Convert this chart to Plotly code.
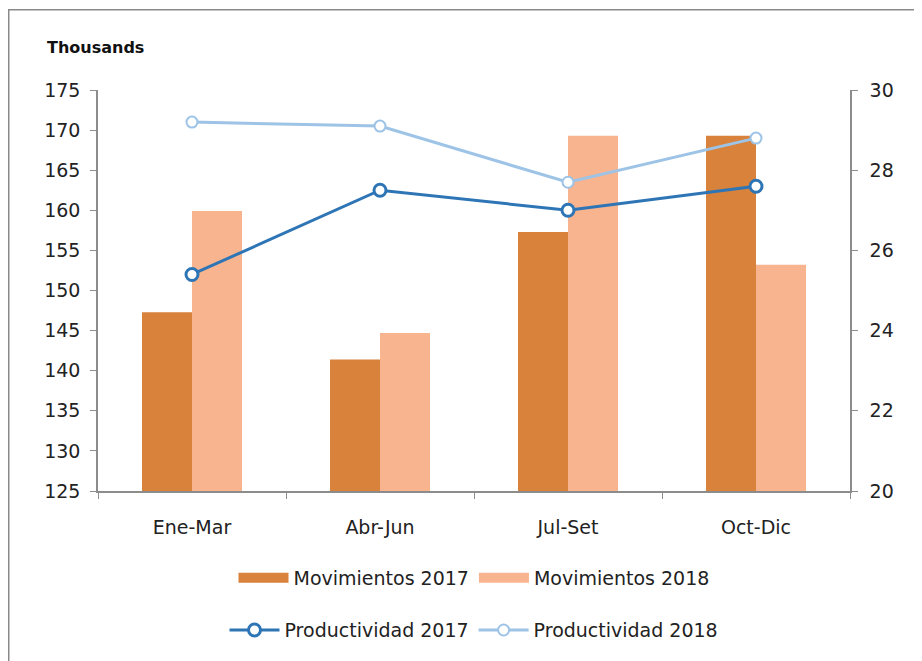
import plotly.graph_objects as go

categories = ["Ene-Mar", "Abr-Jun", "Jul-Set", "Oct-Dic"]
mov_2017 = [147.3, 141.4, 157.3, 169.3]
mov_2018 = [159.9, 144.7, 169.3, 153.2]
prod_2017 = [25.4, 27.5, 27.0, 27.6]
prod_2018 = [29.2, 29.1, 27.7, 28.8]
left_ticks = list(range(125, 176, 5))
right_ticks = list(range(20, 31, 2))

FONT = "'DejaVu Sans', sans-serif"
AX = "#8c8c8c"
C17 = "#D9823B"
C18 = "#F8B48E"

fig = go.Figure()
fig.add_trace(go.Bar(x=categories, y=[v - 125 for v in mov_2017], base=125,
                     name="Movimientos 2017", marker_color=C17,
                     marker_line_width=0, showlegend=False))
fig.add_trace(go.Bar(x=categories, y=[v - 125 for v in mov_2018], base=125,
                     name="Movimientos 2018", marker_color=C18,
                     marker_line_width=0, showlegend=False))
# legend entries drawn as wide swatches
fig.add_trace(go.Scatter(x=[categories[0]], y=[None], mode="lines", name="Movimientos 2017",
                         line=dict(color=C17, width=10), legend="legend"))
fig.add_trace(go.Scatter(x=[categories[0]], y=[None], mode="lines", name="Movimientos 2018",
                         line=dict(color=C18, width=10), legend="legend"))
fig.add_trace(go.Scatter(x=categories, y=prod_2017, yaxis="y2", name="Productividad 2017",
                         mode="lines+markers",
                         line=dict(color="#2E75B6", width=3),
                         marker=dict(symbol="circle", size=12, color="white",
                                     line=dict(color="#2E75B6", width=3)),
                         legend="legend2"))
fig.add_trace(go.Scatter(x=categories, y=prod_2018, yaxis="y2", name="Productividad 2018",
                         mode="lines+markers",
                         line=dict(color="#9DC3E6", width=3),
                         marker=dict(symbol="circle", size=11, color="white",
                                     line=dict(color="#9DC3E6", width=2)),
                         legend="legend2"))

fig.update_layout(
    width=922, height=661,
    margin=dict(l=90, r=80, t=82, b=178),
    paper_bgcolor="white", plot_bgcolor="white",
    font=dict(family=FONT, size=19, color="#222222"),
    barmode="group", bargap=0.468, bargroupgap=0,
    xaxis=dict(type="category", showline=True, linecolor=AX, linewidth=1.5,
               ticks="outside", tickson="boundaries", ticklen=6, tickcolor=AX,
               showgrid=False, tickfont=dict(size=19), ticklabelstandoff=18),
    yaxis=dict(range=[125, 175], tickvals=left_ticks, showline=True, linecolor=AX,
               linewidth=1.5, ticks="outside", ticklen=6, tickcolor=AX,
               showgrid=False, zeroline=False, tickfont=dict(size=19),
               ticklabelstandoff=6),
    yaxis2=dict(range=[20, 30], tickvals=right_ticks, overlaying="y", side="right",
                showline=True, linecolor=AX, linewidth=1.5, ticks="outside",
                ticklen=6, tickcolor=AX, showgrid=False, zeroline=False,
                tickfont=dict(size=19), ticklabelstandoff=8),
    legend=dict(orientation="h", x=0.5, xanchor="center", y=-0.217, yanchor="middle",
                font=dict(size=19), itemwidth=50, traceorder="normal"),
    legend2=dict(orientation="h", x=0.5, xanchor="center", y=-0.347, yanchor="middle",
                 font=dict(size=19), itemwidth=50, traceorder="normal"),
    annotations=[dict(text="<b>Thousands</b>", xref="paper", yref="paper",
                      x=-0.0705, y=1.105, xanchor="left", yanchor="middle",
                      showarrow=False, font=dict(size=16, color="#111111"))],
    shapes=[dict(type="rect", xref="paper", yref="paper",
                 x0=-0.1187, x1=1.3, y0=-0.6, y1=1.2, 
                 line=dict(color="#898989", width=1.5), fillcolor="rgba(0,0,0,0)",
                 layer="below")],
)

fig.write_html("out.html")
